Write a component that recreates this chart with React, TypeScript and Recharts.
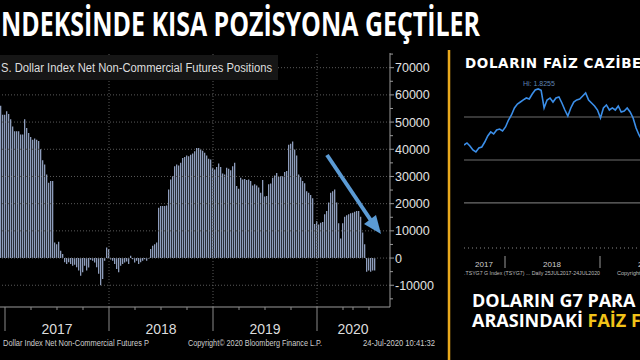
import React from "react";
import {
  Bar,
  BarChart,
  Line,
  LineChart,
  ReferenceLine,
  XAxis,
  YAxis,
} from "recharts";

// weekly net positions (contracts)
const values2016 = [56000, 52700];
const values2017 = [
  52700, 54000, 53000, 51000, 48400, 46600, 46600, 46600, 45400, 45400, 51000,
  47800, 46000, 44500, 43500, 44000, 43500, 43000, 40000, 36000, 34400, 30700,
  27700, 28300, 28300, 5700, 5100, 6000, 2700, 1500, -1500, -2200, -1500, -2200,
  -2800, -2500, -3400, -4600, -6500, -5200, -2800, -4600, -3500, -600, -1000,
  -1600, -3400, -5800, -10000, -7700, -1000, 3900,
];
const values2018 = [
  3300, -500, -1000, -2200, -4000, -5200, -2800, -2200, -1600, -1300, -2200,
  800, -400, -1600, -1000, -2200, -1500, -1000, -400, -1000, -200, 3300, 4500,
  5100, 5700, 18500, 19100, 19100, 19100, 19300, 25200, 28900, 30100, 33800,
  34400, 34000, 35000, 36800, 37200, 37700, 37400, 38000, 38400, 39300, 40500,
  40500, 40000, 39500, 38700, 37700, 36500, 36200,
];
const values2019 = [
  33200, 32600, 33500, 34800, 33500, 31100, 30700, 33200, 32800, 32300, 33800,
  35000, 26500, 25500, 29500, 28900, 29100, 28700, 28900, 28300, 26700, 27100,
  26700, 25900, 24000, 28700, 22600, 22800, 27100, 27400, 29500, 30400, 31300,
  29900, 30100, 30100, 31600, 32000, 41700, 42000, 42900, 39900, 37700, 30700,
  29700, 28300, 27500, 24600, 24000, 23200, 22000, 12500, 13500,
];
const values2020 = [
  12300, 13000, 13300, 16100, 17300, 20400, 24000, 24600, 25200, 20400, 12800,
  7200, 12800, 15200, 15700, 16100, 16500, 16700, 17000, 17300, 17300, 15200,
  9400, 5100, -5000, -4600, -5000, -4600, -4600,
];

const firstWeek = Date.UTC(2016, 11, 20);
const emptyWeeks = 7;
const yearLabels = ["2017", "2018", "2019", "2020"];
const yearStartIdx = [2, 54, 106, 158];
const yearLabelIdx = [28, 80, 132, 176];
const quarterIdx = [15, 41, 67, 93, 119, 145, 171, 184];
const yTicks = [
  -15000, -10000, -5000, 0, 5000, 10000, 15000, 20000, 25000, 30000, 35000,
  40000, 45000, 50000, 55000, 60000, 65000, 70000, 75000,
];
const gridValues = [-10000, 0, 10000, 20000, 30000, 40000, 50000, 60000, 70000];

// G7 rate spread (right panel), visible part only
const spreadValues = [
  1.174, 1.198, 1.163, 1.116, 1.093, 1.14, 1.151, 1.209, 1.279, 1.326, 1.302,
  1.349, 1.36, 1.337, 1.384, 1.465, 1.523, 1.605, 1.651, 1.674, 1.698, 1.721,
  1.709, 1.767, 1.814, 1.826, 1.81, 1.605, 1.698, 1.721, 1.674, 1.721, 1.733,
  1.663, 1.581, 1.512, 1.605, 1.674, 1.698, 1.709, 1.744, 1.779, 1.698, 1.663,
  1.628, 1.581, 1.488, 1.605, 1.64, 1.581, 1.605, 1.581, 1.628, 1.558, 1.57,
  1.605, 1.558, 1.488, 1.372, 1.291, 1.233,
];
const spreadGrid = [0.5, 1.0, 1.5];

const allValues = [
  ...values2016,
  ...values2017,
  ...values2018,
  ...values2019,
  ...values2020,
];
const chartData = Array.from(
  { length: allValues.length + emptyWeeks },
  (_, i) => ({
    week: new Date(firstWeek + i * 7 * 86400000).toISOString().slice(0, 10),
    value: i < allValues.length ? allValues[i] : null,
  })
);
const weekOf = (i: number) => chartData[i].week;
const xTicks = [...yearStartIdx, ...yearLabelIdx, ...quarterIdx]
  .sort((a, b) => a - b)
  .map(weekOf);

const spreadData = spreadValues.map((v, i) => ({ day: i, v }));

const axisFont = "'Liberation Sans', Arial, sans-serif";

function WeekTick({ x, y, payload }: any) {
  const idx = chartData.findIndex((d) => d.week === payload.value);
  const labelPos = yearLabelIdx.indexOf(idx);
  if (yearStartIdx.includes(idx)) {
    return <line x1={x} x2={x} y1={y} y2={y + 24} stroke="#8a8a8a" />;
  }
  return (
    <g>
      <line x1={x} x2={x} y1={y} y2={y + 3} stroke="#8a8a8a" />
      {labelPos >= 0 && (
        <text
          x={x}
          y={y + 27}
          textAnchor="middle"
          fill="#dcdcdc"
          fontSize={14}
          fontFamily={axisFont}
        >
          {yearLabels[labelPos]}
        </text>
      )}
    </g>
  );
}

function ValueTick({ x, y, payload }: any) {
  const major = payload.value % 10000 === 0;
  return (
    <g>
      <line x1={x} x2={x + (major ? 4 : 3)} y1={y} y2={y} stroke="#9a9a9a" />
      {major && (
        <text
          x={x + 5}
          y={y + 4.5}
          fill="#e2e2e2"
          fontSize={12.5}
          fontFamily={axisFont}
        >
          {payload.value}
        </text>
      )}
    </g>
  );
}

export default function App() {
  return (
    <div
      style={{
        position: "fixed",
        left: 0,
        top: 0,
        width: 640,
        height: 360,
        background: "#000",
        overflow: "hidden",
      }}
    >
      <div style={{ position: "absolute", left: 0, top: 0 }}>
        <BarChart
          width={445}
          height={360}
          data={chartData}
          margin={{ top: 53, right: 0, left: 0, bottom: 13 }}
          barCategoryGap={0}
        >
          {gridValues.map((v) => (
            <ReferenceLine
              key={v}
              y={v}
              stroke="#5a5a5a"
              strokeDasharray="1 2"
            />
          ))}
          {yearStartIdx.slice(1).map((i) => (
            <ReferenceLine
              key={i}
              x={weekOf(i)}
              stroke="#5a5a5a"
              strokeDasharray="1 2"
            />
          ))}
          <XAxis
            dataKey="week"
            ticks={xTicks}
            interval={0}
            tick={<WeekTick />}
            tickLine={false}
            tickSize={0}
            tickMargin={0}
            height={40}
            axisLine={{ stroke: "#9a9a9a" }}
          />
          <YAxis
            orientation="right"
            width={55}
            domain={[-18000, 75400]}
            ticks={yTicks}
            interval={0}
            tick={<ValueTick />}
            tickLine={false}
            tickSize={0}
            tickMargin={0}
            axisLine={{ stroke: "#9a9a9a" }}
            allowDataOverflow
          />
          <Bar
            dataKey="value"
            fill="#8e9dbc"
            barSize={1.3}
            isAnimationActive={false}
          />
        </BarChart>
      </div>

      <div style={{ position: "absolute", left: 464, top: 0 }}>
        <LineChart
          width={178}
          height={360}
          data={spreadData}
          margin={{ top: 74, right: 0, left: 0, bottom: 110 }}
        >
          {spreadGrid.map((v) => (
            <ReferenceLine key={v} y={v} stroke="#6e6e6e" strokeWidth={1.2} />
          ))}
          <XAxis
            type="number"
            dataKey="day"
            domain={[0, spreadValues.length - 1]}
            tick={false}
            tickLine={false}
            height={0}
            axisLine={{ stroke: "#9a9a9a", strokeWidth: 1.5 }}
          />
          <YAxis hide domain={[-0.047, 2.0]} />
          <Line
            dataKey="v"
            stroke="#3b8ee8"
            strokeWidth={1.6}
            dot={false}
            isAnimationActive={false}
          />
        </LineChart>
      </div>

      <svg
        width={640}
        height={360}
        style={{ position: "absolute", left: 0, top: 0, pointerEvents: "none" }}
      >
        <text
          x={1}
          y={36}
          fill="#fff"
          fontSize={34}
          fontWeight={700}
          fontFamily="'Open Sans', sans-serif"
          textLength={479}
          lengthAdjust="spacingAndGlyphs"
        >
          NDEKSİNDE KISA POZİSYONA GEÇTİLER
        </text>

        <rect x={0} y={55} width={278} height={25} fill="#161616" />
        <text
          x={1}
          y={72}
          fill="#dedede"
          fontSize={12}
          fontFamily={axisFont}
          textLength={271}
          lengthAdjust="spacingAndGlyphs"
        >
          S. Dollar Index Net Non-Commercial Futures Positions
        </text>

        <line
          x1={327}
          y1={155}
          x2={372}
          y2={222}
          stroke="#5b9bd5"
          strokeWidth={4}
        />
        <polygon points="381,234 364,224 376,215" fill="#5b9bd5" />

        <text
          x={3}
          y={346}
          fill="#cfcfcf"
          fontSize={8.5}
          fontFamily={axisFont}
          textLength={146}
          lengthAdjust="spacingAndGlyphs"
        >
          Dollar Index Net Non-Commercial Futures P
        </text>
        <text
          x={188}
          y={346}
          fill="#cfcfcf"
          fontSize={8.5}
          fontFamily={axisFont}
          textLength={134}
          lengthAdjust="spacingAndGlyphs"
        >
          Copyright© 2020 Bloomberg Finance L.P.
        </text>
        <text
          x={363}
          y={346}
          fill="#cfcfcf"
          fontSize={8.5}
          fontFamily={axisFont}
          textLength={72}
          lengthAdjust="spacingAndGlyphs"
        >
          24-Jul-2020 10:41:32
        </text>

        <line x1={449} y1={50} x2={449} y2={360} stroke="#e9a91c" strokeWidth={2.5} />

        <text
          x={465}
          y={68}
          fill="#fff"
          fontSize={13.5}
          fontWeight={700}
          letterSpacing={0.6}
          fontFamily="'DejaVu Sans', sans-serif"
        >
          DOLARIN FAİZ CAZİBESİ
        </text>
        <text
          x={523}
          y={86}
          fill="#5f84b4"
          fontSize={7}
          fontFamily={axisFont}
        >
          Hi: 1.8255
        </text>

        <line
          x1={464}
          y1={248}
          x2={640}
          y2={248}
          stroke="#8a8a8a"
          strokeDasharray="1 3"
        />
        <line x1={505} y1={256} x2={505} y2={268} stroke="#999" />
        <line x1={600} y1={256} x2={600} y2={268} stroke="#999" />
        <text x={484} y={267} fill="#cfcfcf" fontSize={8} textAnchor="middle" fontFamily={axisFont}>
          2017
        </text>
        <text x={552} y={267} fill="#cfcfcf" fontSize={8} textAnchor="middle" fontFamily={axisFont}>
          2018
        </text>
        <text x={647} y={267} fill="#cfcfcf" fontSize={8} textAnchor="middle" fontFamily={axisFont}>
          2019
        </text>
        <text
          x={464}
          y={275}
          fill="#bdbdbd"
          fontSize={5.5}
          fontFamily={axisFont}
          textLength={136}
          lengthAdjust="spacingAndGlyphs"
        >
          .TSYG7 G Index (TSYG7) ...  Daily 25JUL2017-24JUL2020
        </text>
        <text x={617} y={275} fill="#bdbdbd" fontSize={5.5} fontFamily={axisFont}>
          Copyright
        </text>

        <text
          x={472}
          y={307}
          fill="#fff"
          fontSize={18}
          fontWeight={700}
          fontFamily="'Open Sans', sans-serif"
        >
          DOLARIN G7 PARA
        </text>
        <text
          x={472}
          y={327}
          fill="#fff"
          fontSize={18}
          fontWeight={700}
          fontFamily="'Open Sans', sans-serif"
        >
          ARASINDAKİ <tspan fill="#f2c318">FAİZ FARKI</tspan>
        </text>
      </svg>
    </div>
  );
}
